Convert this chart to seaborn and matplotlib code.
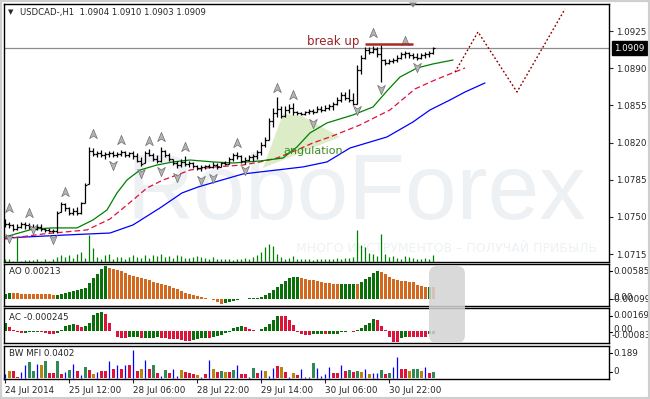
import numpy as np
import pandas as pd
import matplotlib
matplotlib.use("Agg")
import matplotlib.pyplot as plt
import seaborn as sns
from matplotlib.path import Path
from matplotlib.patches import FancyBboxPatch, Polygon, Rectangle

# ---------------- data ----------------
title_symbol = "USDCAD-,H1  1.0904 1.0910 1.0903 1.0909"
date_labels = ["24 Jul 2014", "25 Jul 12:00", "28 Jul 06:00", "28 Jul 22:00",
               "29 Jul 14:00", "30 Jul 06:00", "30 Jul 22:00"]
date_label_bars = [0, 16, 32, 48, 64, 80, 96]
price_ticks = [1.0925, 1.0890, 1.0855, 1.0820, 1.0785, 1.0750, 1.0715]
last_price = 1.0909

opens = [1.0747, 1.0743, 1.0742, 1.0739, 1.0741, 1.0743, 1.0742, 1.0741, 1.0739, 1.0741,
         1.0739, 1.0738, 1.0737, 1.0737, 1.0755, 1.0762, 1.0758, 1.0754, 1.0756, 1.0754,
         1.0763, 1.0781, 1.0812, 1.0809, 1.0810, 1.0808, 1.0809, 1.0810, 1.0808, 1.0809,
         1.0811, 1.0808, 1.0810, 1.0807, 1.0803, 1.0801, 1.0810, 1.0808, 1.0805, 1.0803,
         1.0812, 1.0808, 1.0805, 1.0801, 1.0799, 1.0802, 1.0800, 1.0801, 1.0798, 1.0796,
         1.0797, 1.0798, 1.0797, 1.0799, 1.0797, 1.0801, 1.0800, 1.0805, 1.0808, 1.0807,
         1.0803, 1.0804, 1.0806, 1.0807, 1.0811, 1.0818, 1.0822, 1.0840, 1.0848, 1.0852,
         1.0845, 1.0851, 1.0853, 1.0849, 1.0848, 1.0847, 1.0849, 1.0850, 1.0849, 1.0852,
         1.0851, 1.0853, 1.0854, 1.0856, 1.0860, 1.0865, 1.0862, 1.0860, 1.0856, 1.0888,
         1.0900, 1.0907, 1.0905, 1.0908, 1.0903, 1.0898, 1.0895, 1.0897, 1.0898, 1.0900,
         1.0903, 1.0904, 1.0902, 1.0901, 1.0900, 1.0902, 1.0903, 1.0904]
highs = [1.0748, 1.0745, 1.0743, 1.0743, 1.0745, 1.0745, 1.0744, 1.0743, 1.0743, 1.0743,
         1.0740, 1.0740, 1.0739, 1.0756, 1.0764, 1.0763, 1.0759, 1.0758, 1.0759, 1.0764,
         1.0782, 1.0816, 1.0815, 1.0812, 1.0813, 1.0811, 1.0812, 1.0812, 1.0811, 1.0813,
         1.0812, 1.0811, 1.0812, 1.0810, 1.0806, 1.0812, 1.0814, 1.0810, 1.0808, 1.0816,
         1.0813, 1.0810, 1.0805, 1.0803, 1.0805, 1.0807, 1.0803, 1.0802, 1.0799, 1.0799,
         1.0799, 1.0800, 1.0802, 1.0801, 1.0802, 1.0803, 1.0806, 1.0810, 1.0811, 1.0808,
         1.0806, 1.0808, 1.0809, 1.0813, 1.0821, 1.0825, 1.0843, 1.0853, 1.0863, 1.0854,
         1.0854, 1.0856, 1.0857, 1.0850, 1.0849, 1.0850, 1.0852, 1.0852, 1.0854, 1.0854,
         1.0855, 1.0856, 1.0858, 1.0863, 1.0868, 1.0868, 1.0870, 1.0867, 1.0893, 1.0902,
         1.0910, 1.0910, 1.0911, 1.0910, 1.0912, 1.0899, 1.0899, 1.0900, 1.0902, 1.0905,
         1.0906, 1.0905, 1.0904, 1.0904, 1.0904, 1.0905, 1.0906, 1.0910]
lows = [1.0741, 1.0740, 1.0737, 1.0738, 1.0740, 1.0739, 1.0739, 1.0737, 1.0738, 1.0737,
        1.0736, 1.0736, 1.0735, 1.0735, 1.0755, 1.0756, 1.0752, 1.0752, 1.0752, 1.0753,
        1.0763, 1.0781, 1.0807, 1.0806, 1.0806, 1.0805, 1.0806, 1.0806, 1.0806, 1.0807,
        1.0806, 1.0806, 1.0805, 1.0802, 1.0798, 1.0801, 1.0807, 1.0803, 1.0801, 1.0802,
        1.0806, 1.0803, 1.0799, 1.0796, 1.0797, 1.0798, 1.0797, 1.0796, 1.0794, 1.0793,
        1.0795, 1.0796, 1.0796, 1.0795, 1.0797, 1.0799, 1.0800, 1.0803, 1.0805, 1.0801,
        1.0800, 1.0803, 1.0803, 1.0805, 1.0808, 1.0816, 1.0822, 1.0835, 1.0844, 1.0843,
        1.0844, 1.0848, 1.0846, 1.0846, 1.0846, 1.0846, 1.0847, 1.0847, 1.0849, 1.0849,
        1.0850, 1.0851, 1.0851, 1.0855, 1.0858, 1.0860, 1.0858, 1.0855, 1.0856, 1.0885,
        1.0899, 1.0903, 1.0904, 1.0901, 1.0877, 1.0893, 1.0894, 1.0895, 1.0896, 1.0899,
        1.0900, 1.0900, 1.0899, 1.0898, 1.0899, 1.0900, 1.0901, 1.0903]
closes = [1.0743, 1.0742, 1.0739, 1.0741, 1.0743, 1.0742, 1.0741, 1.0739, 1.0741, 1.0739,
          1.0738, 1.0737, 1.0737, 1.0754, 1.0762, 1.0758, 1.0754, 1.0756, 1.0754, 1.0763,
          1.0780, 1.0812, 1.0809, 1.0810, 1.0808, 1.0809, 1.0810, 1.0808, 1.0809, 1.0811,
          1.0808, 1.0810, 1.0807, 1.0803, 1.0800, 1.0810, 1.0808, 1.0805, 1.0803, 1.0812,
          1.0808, 1.0805, 1.0801, 1.0799, 1.0802, 1.0800, 1.0801, 1.0798, 1.0796, 1.0797,
          1.0798, 1.0797, 1.0799, 1.0797, 1.0801, 1.0800, 1.0805, 1.0808, 1.0807, 1.0803,
          1.0804, 1.0806, 1.0807, 1.0811, 1.0818, 1.0822, 1.0840, 1.0848, 1.0852, 1.0845,
          1.0851, 1.0853, 1.0849, 1.0848, 1.0847, 1.0849, 1.0850, 1.0849, 1.0852, 1.0851,
          1.0853, 1.0854, 1.0856, 1.0860, 1.0865, 1.0862, 1.0860, 1.0856, 1.0888, 1.0900,
          1.0907, 1.0905, 1.0908, 1.0903, 1.0898, 1.0895, 1.0897, 1.0898, 1.0900, 1.0903,
          1.0904, 1.0902, 1.0901, 1.0900, 1.0902, 1.0903, 1.0904, 1.0909]
volumes = [3, 3, 1, 25, 1, 2, 2, 2, 3, 1, 3, 1, 3, 5, 7, 5, 7, 4, 8, 10,
           4, 27, 14, 5, 3, 7, 8, 3, 5, 5, 3, 5, 7, 5, 4, 7, 4, 7, 6, 8,
           5, 6, 4, 7, 6, 4, 4, 5, 6, 5, 4, 3, 5, 3, 3, 3, 3, 2, 3, 3,
           4, 3, 5, 7, 10, 15, 18, 16, 8, 5, 3, 4, 6, 3, 3, 3, 3, 2, 3, 3,
           3, 3, 3, 4, 3, 4, 4, 5, 32, 17, 15, 9, 8, 6, 28, 8, 5, 6, 4, 3,
           6, 5, 4, 3, 3, 4, 3, 7]

# Alligator lines (bar position, price)
lips_x = [0, 7, 12, 18, 22, 25.5, 28, 30.5, 33.75, 38, 42, 46.25, 52, 57, 63.75, 69.5, 73,
          76.25, 80.5, 87, 92, 95.5, 98.75, 103, 107, 112]
lips_y = [1.07312, 1.07387, 1.07397, 1.07397, 1.07472, 1.07566, 1.07726, 1.07848, 1.07942,
          1.07989, 1.08018, 1.08036, 1.08018, 1.08008, 1.08027, 1.08055, 1.08159, 1.08291,
          1.08385, 1.08460, 1.08535, 1.08686, 1.08817, 1.08902, 1.08940, 1.08977]
teeth_x = [0, 9.5, 20.5, 26.25, 32, 35.5, 39.5, 43, 46.25, 52.5, 59.5, 63.75, 68, 73, 77,
           81.25, 85, 88.75, 93.75, 96.25, 99.5, 102.5, 107.5, 111.25, 115]
teeth_y = [1.07293, 1.07340, 1.07378, 1.07481, 1.07660, 1.07773, 1.07848, 1.07895, 1.07942,
           1.07971, 1.07989, 1.08018, 1.08055, 1.08131, 1.08197, 1.08253, 1.08309, 1.08366,
           1.08460, 1.08507, 1.08610, 1.08705, 1.08789, 1.08846, 1.08902]
jaw_x = [0, 15.5, 26.25, 32, 38.75, 44.25, 48.25, 52.5, 59.5, 68, 74.5, 80.5, 86.25, 95.5,
         102, 106.25, 111.25, 115, 120]
jaw_y = [1.07302, 1.07331, 1.07349, 1.07425, 1.07585, 1.07726, 1.07782, 1.07829, 1.07905,
         1.07942, 1.07971, 1.08018, 1.08149, 1.08253, 1.08394, 1.08507, 1.08601, 1.08676,
         1.08761]

# forecast path
forecast_x = [112.5, 118.25, 128, 140]
forecast_y = [1.08864, 1.09241, 1.08676, 1.09457]

# fractals (bar, arrow price)
frac_up_x = [1, 6, 15, 22, 29, 36, 39, 45, 58, 68, 72, 92, 100]
frac_up_y = [1.07585, 1.07538, 1.07735, 1.08281, 1.08225, 1.08215, 1.08253, 1.08159,
             1.08196, 1.08714, 1.08648, 1.09231, 1.09156]
frac_dn_x = [1, 7, 12, 27, 34, 39, 43, 49, 52, 60, 77, 88, 94, 103]
frac_dn_y = [1.07302, 1.07387, 1.07293, 1.07989, 1.07914, 1.07933, 1.07876, 1.07848,
             1.07867, 1.07942, 1.08385, 1.08507, 1.08705, 1.08912]

# annotations
breakup_level = 1.09128
breakup_bars = (90, 102)
angulation_poly = [(64.5, 1.07961), (69.5, 1.08469), (74.25, 1.08450), (83.75, 1.08253)]

ao = [9.1e-4, 10.9e-4, 10.5e-4, 10.2e-4, 10.0e-4, 9.8e-4, 9.4e-4, 9.1e-4, 9.0e-4, 8.8e-4,
      8.6e-4, 8.2e-4, 7.3e-4, 8.0e-4, 9.1e-4, 10.9e-4, 12.7e-4, 14.6e-4, 16.4e-4, 17.3e-4,
      20.0e-4, 29.1e-4, 38.2e-4, 45.5e-4, 54.6e-4, 60.0e-4, 56.4e-4, 54.6e-4, 52.8e-4, 50.4e-4,
      47.3e-4, 43.7e-4, 41.9e-4, 40.0e-4, 38.2e-4, 36.4e-4, 34.6e-4, 30.9e-4, 29.1e-4, 27.3e-4,
      25.5e-4, 23.7e-4, 20.0e-4, 18.2e-4, 14.6e-4, 10.9e-4, 9.1e-4, 7.3e-4, 5.5e-4, 3.6e-4,
      2.7e-4, 0.9e-4, -1.8e-4, -5.5e-4, -8.2e-4, -7.3e-4, -5.5e-4, -3.6e-4, -1.8e-4, 0.5e-4,
      0.9e-4, 1.8e-4, 1.9e-4, 2.7e-4, 4.5e-4, 7.3e-4, 10.9e-4, 16.4e-4, 21.8e-4, 27.3e-4,
      32.8e-4, 38.2e-4, 40.0e-4, 40.5e-4, 38.2e-4, 36.4e-4, 34.6e-4, 33.7e-4, 32.8e-4, 30.9e-4,
      30.0e-4, 28.6e-4, 27.8e-4, 26.8e-4, 27.0e-4, 27.2e-4, 27.4e-4, 27.6e-4, 27.3e-4, 31.5e-4,
      36.4e-4, 40.0e-4, 46.8e-4, 51.0e-4, 49.7e-4, 45.5e-4, 40.6e-4, 36.4e-4, 34.6e-4, 32.8e-4,
      32.6e-4, 31.5e-4, 30.4e-4, 25.5e-4, 24.2e-4, 22.4e-4, 22.5e-4, 21.3e-4]
ac = [7.6e-4, 3.8e-4, 0.9e-4, -0.5e-4, -1.9e-4, -1.8e-4, -1.4e-4, -0.9e-4, -0.8e-4, -1.0e-4,
      -1.9e-4, -2.4e-4, -2.5e-4, -1.9e-4, 0.7e-4, 4.7e-4, 5.7e-4, 6.6e-4, 5.7e-4, 4.1e-4,
      5.0e-4, 7.3e-4, 15.1e-4, 16.7e-4, 18.2e-4, 16.0e-4, 7.3e-4, 0.2e-4, -5.4e-4, -6.3e-4,
      -6.4e-4, -6.0e-4, -5.9e-4, -5.8e-4, -6.9e-4, -6.8e-4, -6.6e-4, -6.4e-4, -5.7e-4, -6.2e-4,
      -6.9e-4, -7.5e-4, -7.6e-4, -7.8e-4, -8.5e-4, -9.2e-4, -9.4e-4, -8.5e-4, -7.8e-4, -6.9e-4,
      -6.5e-4, -6.9e-4, -5.4e-4, -4.4e-4, -3.8e-4, -2.2e-4, -0.7e-4, 2.5e-4, 4.1e-4, 4.7e-4,
      3.5e-4, 1.9e-4, 0.9e-4, 0.1e-4, 1.9e-4, 4.1e-4, 6.3e-4, 10.4e-4, 14.5e-4, 14.2e-4,
      14.1e-4, 10.4e-4, 5.7e-4, -1.2e-4, -3.1e-4, -3.8e-4, -3.9e-4, -3.1e-4, -2.8e-4, -2.5e-4,
      -3.3e-4, -3.1e-4, -2.8e-4, -2.5e-4, -1.2e-4, -0.7e-4, -0.3e-4, -0.6e-4, 0.9e-4, 2.5e-4,
      5.7e-4, 7.3e-4, 11.3e-4, 10.4e-4, 5.0e-4, 0.5e-4, -5.4e-4, -10.1e-4, -10.3e-4, -6.9e-4,
      -5.4e-4, -5.5e-4, -5.6e-4, -5.7e-4, -5.8e-4, -5.9e-4, -2.8e-4, -2.45e-4]
mfi = [0.027, 0.045, 0.045, 0.007, 0.040, 0.087, 0.107, 0.045, 0.094, 0.085,
       0.112, 0.036, 0.036, 0.112, 0.029, 0.040, 0.052, 0.094, 0.045, 0.018,
       0.074, 0.052, 0.025, 0.040, 0.045, 0.045, 0.112, 0.058, 0.085, 0.058,
       0.089, 0.085, 0.188, 0.045, 0.058, 0.119, 0.058, 0.089, 0.036, 0.013,
       0.052, 0.036, 0.062, 0.013, 0.052, 0.040, 0.036, 0.029, 0.022, 0.007,
       0.029, 0.119, 0.062, 0.040, 0.045, 0.040, 0.040, 0.052, 0.089, 0.029,
       0.029, 0.007, 0.069, 0.036, 0.052, 0.045, 0.013, 0.067, 0.080, 0.074,
       0.040, 0.007, 0.036, 0.022, 0.058, 0.007, 0.007, 0.103, 0.067, 0.013,
       0.029, 0.074, 0.036, 0.036, 0.085, 0.045, 0.052, 0.040, 0.045, 0.040,
       0.062, 0.025, 0.034, 0.034, 0.052, 0.029, 0.036, 0.074, 0.141, 0.058,
       0.058, 0.045, 0.058, 0.058, 0.045, 0.072, 0.036, 0.040]
mfi_state = list("fbssffggfb" "gssgsfgfsf" "gsbfssfsfs" "fsfsbfsgsf" "gsffbsssbf"
                 "sfbsgbsgfs" "sfgsfbffsb" "sfbsfffgff" "ffssfsgsgb" "fbffgsgffs" "sbggbfsg")

# ---------------- figure ----------------
sns.set_style("white")
plt.rcParams['font.family'] = ['DejaVu Sans']

W, H = 650, 399
fig = plt.figure(figsize=(6.5, 3.99), dpi=100)
fig.patch.set_facecolor('white')


def add_axes_px(x0, y0, x1, y1):
    return fig.add_axes([x0 / W, 1 - y1 / H, (x1 - x0) / W, (y1 - y0) / H])


def ftext(x, y, s, **kw):
    return fig.text(x / W, 1 - y / H, s, **kw)


ax = add_axes_px(4, 4, 609, 262)
ax_vol = add_axes_px(4, 4, 609, 262)
ax_ao = add_axes_px(4, 264, 609, 306)
ax_ac = add_axes_px(4, 308, 609, 343)
ax_mfi = add_axes_px(4, 346, 609, 379)

XMIN, XMAX = -0.25, 151.0
for a in (ax, ax_vol, ax_ao, ax_ac, ax_mfi):
    a.set_xlim(XMIN, XMAX)
    for s in a.spines.values():
        s.set_color('black')
        s.set_linewidth(1.0)
    a.tick_params(axis='x', bottom=False, labelbottom=False)

ax.set_zorder(1)
ax_vol.set_zorder(2)
ax_vol.patch.set_visible(False)
ax_vol.axis('off')

SMALL = 6.3
idx = np.arange(len(closes))

# main price panel
ax.set_ylim(1.070763, 1.095041)
ax.yaxis.tick_right()
ax.set_yticks(price_ticks)
ax.set_yticklabels([f"{p:.4f}" for p in price_ticks])
ax.tick_params(axis='y', right=True, left=False, length=3, width=0.8, pad=2,
               labelsize=SMALL, direction='out')

# watermark
ax.text((356 - 4) / 605, (262 - 195) / 258, "RoboForex", transform=ax.transAxes,
        fontsize=67, color='#eef1f4', family='Liberation Sans', ha='center',
        va='center', zorder=0)
ax.text((597 - 4) / 605, (262 - 249) / 258, "МНОГО ИНСТРУМЕНТОВ – ПОЛУЧАЙ ПРИБЫЛЬ",
        transform=ax.transAxes, fontsize=9, color='#eef1f4', ha='right',
        va='center', zorder=0)

ax.add_patch(Polygon(angulation_poly, closed=True, fc='#dcecc6', ec='none', zorder=1))
ax.axhline(last_price, color='#8c8c8c', lw=0.9, zorder=2)

sns.lineplot(x=jaw_x, y=jaw_y, ax=ax, color='#0000ff', lw=0.9, estimator=None, zorder=3)
sns.lineplot(x=teeth_x, y=teeth_y, ax=ax, color='#e0103c', lw=0.9, estimator=None,
             linestyle=(0, (4.5, 2.5)), zorder=3)
sns.lineplot(x=lips_x, y=lips_y, ax=ax, color='#008000', lw=0.9, estimator=None, zorder=3)
sns.lineplot(x=forecast_x, y=forecast_y, ax=ax, color='#8b0000', lw=1.0, estimator=None,
             linestyle=(0, (1.3, 1.6)), zorder=3)

ax.vlines(idx, lows, highs, color='black', lw=0.9, zorder=4)
ax.hlines(opens, idx - 0.5, idx, color='black', lw=0.9, zorder=4)
ax.hlines(closes, idx, idx + 0.5, color='black', lw=0.9, zorder=4)

up_marker = Path([(0, 1), (0.75, -0.8), (0, -0.3), (-0.75, -0.8), (0, 1)],
                 [Path.MOVETO, Path.LINETO, Path.LINETO, Path.LINETO, Path.CLOSEPOLY])
dn_marker = Path([(0, -1), (0.75, 0.8), (0, 0.3), (-0.75, 0.8), (0, -1)],
                 [Path.MOVETO, Path.LINETO, Path.LINETO, Path.LINETO, Path.CLOSEPOLY])
ax.scatter(frac_up_x, frac_up_y, marker=up_marker, s=55, c='#b4b4b4',
           edgecolors='#707070', linewidths=0.5, zorder=5)
ax.scatter(frac_dn_x, frac_dn_y, marker=dn_marker, s=55, c='#b4b4b4',
           edgecolors='#707070', linewidths=0.5, zorder=5)

ax.hlines(breakup_level, breakup_bars[0], breakup_bars[1], color='#a52a2a', lw=1.8, zorder=5)
ax.text(88.5, 1.09147, "break up", ha='right', va='center', color='#9b2226',
        fontsize=8.5, zorder=6)
ax.text(77, 1.08121, "angulation", ha='center', va='center', color='#3d8b26',
        fontsize=8, zorder=6)

ax.annotate(f"{last_price:.4f}", xy=(1, last_price), xycoords=('axes fraction', 'data'),
            xytext=(3.8, 0), textcoords='offset points', ha='left', va='center',
            color='white', fontsize=SMALL,
            bbox=dict(boxstyle='square,pad=0.25', fc='black', ec='black'),
            annotation_clip=False, zorder=7)

# volumes
ax_vol.set_ylim(0, 258)
ax_vol.vlines(idx, 0, volumes, color='#008000', lw=0.9)

# AO
ao_arr = np.array(ao)
ao_col = ['#0a6e0a' if (i == 0 or ao_arr[i] > ao_arr[i - 1]) else '#d2691e'
          for i in range(len(ao_arr))]
ax_ao.bar(idx, ao_arr, width=0.75, color=ao_col, linewidth=0)
ax_ao.set_ylim(-7 * 1.82e-4, 35 * 1.82e-4)
ax_ao.set_yticks([])

# AC
ac_arr = np.array(ac)
ac_col = ['#0a6e0a' if (i == 0 or ac_arr[i] > ac_arr[i - 1]) else '#dc143c'
          for i in range(len(ac_arr))]
ax_ac.bar(idx, ac_arr, width=0.75, color=ac_col, linewidth=0)
ax_ac.set_ylim(-12 * 0.944e-4, 23 * 0.944e-4)
ax_ac.set_yticks([])

# BW MFI
mfi_colors = {'g': '#2e8b57', 'b': '#b8860b', 's': '#dc143c', 'f': '#0000ff'}
mfi_arr = np.array(mfi)
wide = np.array([s != 'f' for s in mfi_state])
ax_mfi.bar(idx[wide], mfi_arr[wide], width=0.75,
           color=[mfi_colors[s] for s in np.array(mfi_state)[wide]], linewidth=0)
ax_mfi.vlines(idx[~wide], 0, mfi_arr[~wide], color=mfi_colors['f'], lw=0.9)
ax_mfi.set_ylim(-0.0067, 33 * 0.0067 - 0.0067)
ax_mfi.set_yticks([])
ax_mfi.set_xticks(date_label_bars)
ax_mfi.set_xticklabels(date_labels, ha='left')
ax_mfi.tick_params(axis='x', bottom=True, labelbottom=True, length=3, width=0.8,
                   pad=2, labelsize=SMALL, direction='out')

# sub panel right-side ticks and labels
for yv in [271, 299, 316, 332, 353, 372]:
    fig.add_artist(plt.Line2D([609 / W, 612 / W], [1 - yv / H, 1 - yv / H],
                              color='black', lw=0.8))
ftext(613, 271, "0.00585", fontsize=SMALL, va='center')
ftext(612, 299, "-0.00099", fontsize=SMALL, va='center')
ftext(613, 298, "0.00", fontsize=SMALL, va='center')
ftext(613, 315, "0.001699", fontsize=SMALL, va='center')
ftext(613, 330, "0.00", fontsize=SMALL, va='center')
ftext(612, 336, "-0.00083", fontsize=SMALL, va='center')
ftext(613, 353, "0.189", fontsize=SMALL, va='center')
ftext(613, 372, "0", fontsize=SMALL, va='center')

# panel labels and title
ftext(8, 12, "\u25bc", fontsize=5, va='center')
ftext(20, 12, title_symbol, fontsize=6.1, va='center')
ftext(9, 272, "AO 0.00213", fontsize=SMALL, va='center')
ftext(9, 317, "AC -0.000245", fontsize=SMALL, va='center')
ftext(9, 354, "BW MFI 0.0402", fontsize=SMALL, va='center')

# grey rounded box and top marker
fig.add_artist(FancyBboxPatch((4.29, (399 - 343) / 100), 0.36, 0.77,
                              boxstyle='round,pad=0,rounding_size=0.08',
                              transform=fig.dpi_scale_trans, fc='#d3d3d3', ec='none',
                              alpha=0.85, zorder=5))
fig.add_artist(Polygon([[4.09, 3.965], [4.17, 3.965], [4.13, 3.915]], closed=True,
                       transform=fig.dpi_scale_trans, fc='#7f7f7f', ec='none', zorder=5))
fig.add_artist(Rectangle((0, 0), 1, 1, transform=fig.transFigure, fill=False,
                         ec='#cfcfcf', lw=3, zorder=6))

fig.savefig("out.png", dpi=100)
